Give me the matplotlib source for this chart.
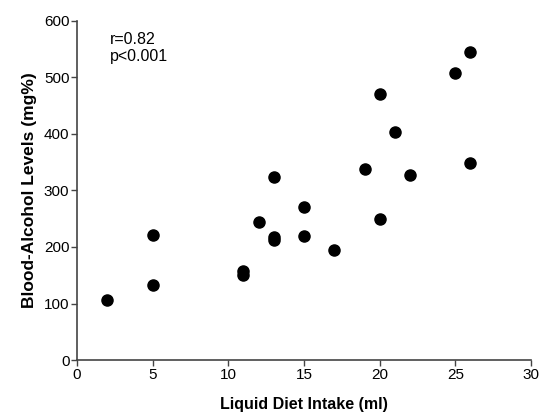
import matplotlib.pyplot as plt

plt.rcParams['font.family'] = ['Liberation Sans', 'DejaVu Sans']

# Liquid diet intake (ml) vs blood-alcohol level (mg%)
intake = [2, 5, 5, 11, 11, 12, 13, 13, 13, 15, 15, 17, 19, 20, 20, 21, 22, 25, 26, 26]
bal = [107, 221, 132, 157, 150, 244, 323, 218, 212, 271, 219, 194, 338, 470, 249, 403, 327, 507, 544, 349]

x_ticks = [0, 5, 10, 15, 20, 25, 30]
y_ticks = [0, 100, 200, 300, 400, 500, 600]

fig = plt.figure(figsize=(5.39, 4.12), dpi=100)
ax = fig.add_axes([0.143, 0.126, 0.842, 0.824])

ax.scatter(intake, bal, s=64, color='black', zorder=3, clip_on=False)

ax.set_xlim(0, 30)
ax.set_ylim(0, 600)
ax.set_xticks(x_ticks)
ax.set_yticks(y_ticks)

for side in ['top', 'right']:
    ax.spines[side].set_visible(False)
for side in ['left', 'bottom']:
    ax.spines[side].set_color('#444444')
    ax.spines[side].set_linewidth(1.2)
ax.tick_params(direction='out', length=4, width=1, color='#444444',
               labelsize=11, pad=1.5)

ax.set_xlabel('Liquid Diet Intake (ml)', fontsize=11.5, fontweight='bold', labelpad=11)
ax.set_ylabel('Blood-Alcohol Levels (mg%)', fontsize=12.5, fontweight='bold', labelpad=5)

ax.text(2.2, 580, 'r=0.82\np<0.001', fontsize=11.5, va='top', ha='left', linespacing=1.15)

fig.savefig('out.png', dpi=100)
